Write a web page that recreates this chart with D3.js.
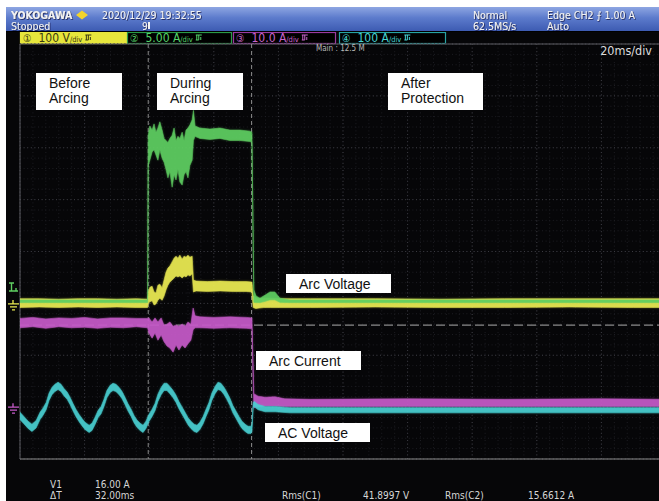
<!DOCTYPE html>
<html>
<head>
<meta charset="utf-8">
<script src="https://cdn.jsdelivr.net/npm/d3@7"></script>
<style>
  html, body { margin: 0; padding: 0; background: #fff; }
  svg { display: block; }
  .scope { font-family: 'Liberation Sans Narrow', 'DejaVu Sans Condensed', 'DejaVu Sans', sans-serif; font-stretch: condensed; }
  .note { font-family: 'Liberation Sans', Arial, sans-serif; font-size: 14px; fill: #111; }
</style>
</head>
<body>
<svg id="scope" width="659" height="501"></svg>
<script>
// ---- Acquisition settings ----
const timePerDiv = 20;            // ms/div
const timeSpan = [0, 200];        // ms across the screen
const sampleRate = "62.5MS/s";
const mainLength = "Main : 12.5 M";
const stampText = "2020/12/29 19:32:55";
const triggerLevel = 1.00;        // A on CH2
const cursorTimes = [39.7, 71.7]; // ms, vertical cursors
const cursorLevel = 16.00;        // A on CH3, horizontal cursor
const rmsC1 = 41.8997;            // V
const rmsC2 = 15.6612;            // A

// ---- Channel settings ----
const channelNames = ["1", "2", "3", "4"];
const perDiv = [100, 5, 10, 100];
const unitText = ["V", "A", "A", "A"];
const groundDiv = [-1.03, -0.96, -3.02, -3.03];

// ---- Traces: [time ms, low, high] ----
// CH1 arc voltage (V)
const ch1Volt = [
  [0,-5,12],[6,-4,12],[12,-5,11],[18,-4,12],[24,-5,12],[30,-4,11],[36,-5,12],[39.5,-5,11],
  [39.7,3,25],[40.2,6,34],[40.9,8,36],[41.5,0,25],[42.1,2,23],[42.7,9,38],[43.3,13,40],[44.0,9,33],
  [44.6,17,48],[45.2,29,63],[45.8,38,71],[46.4,44,75],[47.1,48,83],[47.7,52,90],[48.3,56,94],
  [48.9,54,90],[49.5,56,96],[50.2,52,88],[50.8,56,94],[51.4,54,92],[52.0,58,96],[52.6,56,92],
  [53.3,60,94],[53.7,25,48],[54.5,27,46],[58,26,45],[62,27,46],[66,26,45],[70,26,45],[71.8,25,44],
  [72.2,-5,18],[73.0,-7,14],[74.0,-6,12],[75.5,-5,13],[77.5,-5,13],[80,-5,12],[90,-5,12],
  [110,-4,12],[130,-5,11],[150,-5,12],[170,-4,12],[190,-5,12],[200,-5,12]
];
// CH2 arc current (A)
const ch2Amp = [
  [0,-0.12,0.12],[39.5,-0.12,0.12],
  [39.7,13.1,16.0],[40.2,13.6,16.9],[40.9,14.4,16.5],[41.5,14.6,17.1],[42.1,14.1,16.3],[42.7,13.6,16.7],
  [43.3,14.6,17.3],[44.0,13.8,16.5],[44.6,13.4,15.7],[45.2,12.7,15.5],[45.8,11.9,15.3],[46.4,12.5,15.7],
  [47.1,11.0,16.0],[47.7,12.2,16.7],[48.3,11.7,15.5],[48.9,12.7,15.9],[49.5,11.5,15.7],[50.2,11.2,16.3],
  [50.8,12.2,15.5],[51.4,12.5,16.5],[52.0,11.9,16.7],[52.6,13.1,17.0],[53.3,13.6,17.5],[53.7,15.5,18.4],
  [54.2,15.9,16.9],[55.7,15.7,16.7],[58.8,15.6,16.6],[61.9,15.7,16.7],[65.0,15.5,16.5],[68.1,15.5,16.5],
  [71.2,15.4,16.4],[71.8,15.3,16.3],
  [72.4,-0.1,1.1],[73.1,-0.12,0.5],[74.3,-0.12,0.3],[75.9,0.0,0.6],[77.4,0.15,0.9],[78.9,0.15,0.9],
  [80.5,-0.1,0.3],[83.6,-0.12,0.12],[200,-0.12,0.12]
];
// CH3 current (A)
const ch3Amp = [
  [0,15.5,17.3],[4,15.7,17.5],[8,15.4,17.2],[12,15.7,17.4],[16,15.5,17.3],[20,15.6,17.5],
  [24,15.4,17.2],[28,15.6,17.4],[32,15.5,17.4],[36,15.7,17.3],[39.5,15.5,17.3],
  [39.9,14.5,17.4],[40.9,13.5,16.6],[41.8,14.5,17.4],[42.7,13.1,16.6],[43.7,14.1,17.4],[44.6,12.8,16.0],
  [45.5,12.0,16.2],[46.4,11.6,16.6],[47.4,10.8,15.8],[48.3,12.2,16.0],[49.2,11.2,15.8],[50.2,12.2,16.2],
  [51.1,11.6,15.8],[52.0,12.4,16.6],[52.9,13.1,16.2],[53.6,15.1,19.3],[54.2,15.5,17.8],[55.7,15.5,17.6],
  [60,15.4,17.5],[65,15.5,17.6],[70,15.4,17.5],[71.8,15.3,17.4],
  [72.4,0.1,2.8],[73.7,0.3,2.3],[75.9,0.4,2.1],[78.9,0.4,2.2],[82,0.3,1.8],[90,0.3,1.7],
  [120,0.3,1.8],[150,0.3,1.7],[180,0.3,1.8],[200,0.3,1.7]
];
// CH4 AC line (A)
const ch4Wave = [
  [0,-21,-7],[1.2,-29,-15],[2.5,-38,-24],[3.7,-44,-30],[5.0,-37,-23],[6.2,-21,-7],[7.1,-13,1],[8.1,-2,12],
  [9.0,16,30],[9.9,27,41],[10.8,33,47],[11.8,37,51],[12.7,33,47],[13.6,25,39],[14.6,18,32],[15.5,8,22],
  [16.4,-4,10],[17.3,-15,-1],[18.3,-25,-11],[19.2,-33,-19],[20.1,-40,-26],[21.4,-46,-32],
  [22.3,-42,-28],[23.2,-31,-17],[24.2,-17,-3],[25.1,-10,4],[26.0,4,18],[26.9,21,35],[27.9,31,45],
  [28.8,35,49],[29.7,33,47],[30.7,27,41],[31.6,19,33],[32.5,8,22],[33.4,-4,10],[34.4,-15,-1],
  [35.3,-27,-13],[36.2,-36,-22],[37.2,-42,-28],[38.1,-46,-32],
  [39.0,-38,-24],[39.9,-25,-11],[40.9,-15,-1],[41.8,-4,10],[42.7,14,28],[43.7,27,41],[44.6,35,49],
  [45.5,35,49],[46.4,29,43],[47.4,21,35],[48.3,12,26],[49.2,0,14],[50.2,-11,3],[51.1,-21,-7],
  [52.0,-31,-17],[52.9,-38,-24],[53.9,-44,-30],[54.8,-46,-32],
  [55.7,-40,-26],[56.7,-29,-15],[57.6,-15,-1],[58.5,-2,12],[59.4,16,30],[60.4,29,43],[61.3,37,51],
  [62.2,35,49],[63.2,27,41],[64.1,17,31],[65.0,6,20],[65.9,-8,6],[66.9,-19,-5],[67.8,-29,-15],
  [68.7,-38,-24],[69.7,-44,-30],[70.6,-48,-34],[71.5,-48,-34],[71.8,-44,-30],
  [72.2,2,12],[72.5,4,14],[73.7,-2,8],[75.9,-6,4],[79,-6,4],[83.6,-8,2],[100,-8,2],
  [120,-8,2],[140,-8,2],[160,-8,2],[180,-8,2],[200,-8,2]
];

// ---- Annotation texts ----
const noteLines = [["Before", "Arcing"], ["During", "Arcing"], ["After", "Protection"],
                   ["Arc Voltage"], ["Arc Current"], ["AC Voltage"]];

// ==== drawing ====
const W = 659, H = 501;
const svg = d3.select("#scope");
const plot = { left: 20, top: 44, right: 666, bottom: 459 };
const x = d3.scaleLinear().domain(timeSpan).range([plot.left, plot.right]);
const yDiv = d3.scaleLinear().domain([-4, 4]).range([plot.bottom, plot.top]);

const colors = ["#ecec52", "#5fcf62", "#c65ac9", "#48d0d2"];
const channels = channelNames.map((n, i) => ({
  name: n, perDiv: perDiv[i], unit: unitText[i], ground: groundDiv[i], color: colors[i],
  data: [ch1Volt, ch2Amp, ch3Amp, ch4Wave][i]
}));
const yOf = (ch, v) => yDiv(v / ch.perDiv + ch.ground);

const defs = svg.append("defs");
const hdr = defs.append("linearGradient").attr("id", "hdr").attr("x1", 0).attr("y1", 0).attr("x2", 0).attr("y2", 1);
hdr.append("stop").attr("offset", "0%").attr("stop-color", "#8ea6e2");
hdr.append("stop").attr("offset", "45%").attr("stop-color", "#5c7bcc");
hdr.append("stop").attr("offset", "100%").attr("stop-color", "#3d5bb2");
defs.append("clipPath").attr("id", "plotClip").append("rect")
  .attr("x", plot.left).attr("y", plot.top).attr("width", W - plot.left).attr("height", plot.bottom - plot.top);
const glow = defs.append("filter").attr("id", "glow").attr("x", "-5%").attr("y", "-20%").attr("width", "110%").attr("height", "140%");
glow.append("feGaussianBlur").attr("stdDeviation", 1.3);
const soft = defs.append("filter").attr("id", "soft");
soft.append("feGaussianBlur").attr("stdDeviation", 0.4);
const shadow = defs.append("filter").attr("id", "shadow").attr("x", "-10%").attr("y", "-30%").attr("width", "120%").attr("height", "160%");
shadow.append("feDropShadow").attr("dx", 0.8).attr("dy", 0.8).attr("stdDeviation", 0.3).attr("flood-color", "#1b2452");

// page + screen
svg.append("rect").attr("width", W).attr("height", H).attr("fill", "#fff");
svg.append("rect").attr("x", 6).attr("y", 7).attr("width", W - 6).attr("height", H - 7).attr("fill", "#060608");
svg.append("rect").attr("x", 6).attr("y", 7).attr("width", W - 6).attr("height", 24).attr("fill", "url(#hdr)");

// header text with a dark drop shadow
function headText(t, xp, yp, size, weight) {
  svg.append("text").attr("class", "scope").attr("font-size", size).attr("font-weight", weight || "normal")
    .attr("x", xp).attr("y", yp).attr("fill", "#f2f2f2").attr("filter", "url(#shadow)").text(t);
}
headText("YOKOGAWA", 11, 18.8, 10.5, "bold");
svg.append("path").attr("d", "M82,10.5 L88,15 L82,19.5 L76,15 Z").attr("fill", "#f2d42a");
headText(stampText, 102, 18.8, 10.5);
headText("Stopped", 11, 29.6, 10.5);
headText("9", 142, 29.6, 10);
svg.append("rect").attr("x", 148).attr("y", 22).attr("width", 2).attr("height", 7).attr("fill", "#f2f2f2");
headText("Normal", 473, 18.8, 10.5);
headText(sampleRate, 473, 29.6, 10.5);
headText("Edge CH2 \u2A0D " + d3.format(".2f")(triggerLevel) + " A", 547, 18.8, 10.5);
headText("Auto", 547, 29.6, 10.5);

// channel bar
const barX = [[20, 127], [127, 232], [233, 336], [339, 446]];
const barCol = [["#e6e63c", "#e6e63c", "#3a3a10"], ["#000", "#2b9a48", "#55d46a"],
                ["#000", "#9a3aa0", "#c864cc"], ["#000", "#27a3a3", "#45d2d2"]];
const circled = ["\u2460", "\u2461", "\u2462", "\u2463"];
channels.forEach((ch, i) => {
  const [x0, x1] = barX[i], [fill, stroke, txt] = barCol[i];
  svg.append("rect").attr("x", x0 + 0.5).attr("y", 32.5).attr("width", x1 - x0 - 1).attr("height", 11)
    .attr("fill", fill).attr("stroke", stroke).attr("stroke-width", 1.2);
  const t = svg.append("text").attr("class", "scope").attr("x", x0 + 3).attr("y", 42)
    .attr("font-size", 12).attr("fill", txt);
  t.append("tspan").attr("font-size", 10.5).text(circled[i]);
  t.append("tspan").attr("dx", 7).text(d3.format(".3r")(ch.perDiv) + " " + ch.unit);
  t.append("tspan").attr("font-size", 7.5).text("/div");
  const bb = t.node().getBBox();
  const ix = bb.x + bb.width + 3;
  svg.append("path").attr("d", `M${ix},35 h6 M${ix + 1},35 v5 M${ix + 3},35 v5 M${ix},40 h3 M${ix + 5},37 v3`)
    .attr("stroke", txt).attr("stroke-width", 1).attr("fill", "none");
});
svg.append("line").attr("x1", 6).attr("x2", W).attr("y1", 31.5).attr("y2", 31.5).attr("stroke", "#000");

// grid
const grid = svg.append("g");
const minorT = d3.range(timeSpan[0], timeSpan[1] + 0.01, timePerDiv / 5);
const minorD = d3.range(-4, 4.001, 0.2);
grid.selectAll(".mv").data(minorT).join("line")
  .attr("x1", d => x(d)).attr("x2", d => x(d)).attr("y1", plot.top).attr("y2", plot.bottom)
  .attr("stroke", "#1d1d22").attr("stroke-dasharray", "1,2.6");
grid.selectAll(".mh").data(minorD).join("line")
  .attr("y1", d => yDiv(d)).attr("y2", d => yDiv(d)).attr("x1", plot.left).attr("x2", W)
  .attr("stroke", "#1d1d22").attr("stroke-dasharray", "1,2.6");
grid.selectAll(".Mv").data(d3.range(timeSpan[0], timeSpan[1] + 0.01, timePerDiv)).join("line")
  .attr("x1", d => x(d)).attr("x2", d => x(d)).attr("y1", plot.top).attr("y2", plot.bottom)
  .attr("stroke", "#3a3a40").attr("stroke-dasharray", "1,2.6");
grid.selectAll(".Mh").data(d3.range(-4, 4.01, 1)).join("line")
  .attr("y1", d => yDiv(d)).attr("y2", d => yDiv(d)).attr("x1", plot.left).attr("x2", W)
  .attr("stroke", "#3a3a40").attr("stroke-dasharray", "1,2.6");
// frame
svg.append("line").attr("x1", plot.left).attr("x2", W).attr("y1", plot.top).attr("y2", plot.top).attr("stroke", "#5a5a60");
svg.append("line").attr("x1", plot.left).attr("x2", W).attr("y1", plot.bottom).attr("y2", plot.bottom).attr("stroke", "#8a8a8a");
svg.append("line").attr("x1", plot.left).attr("x2", plot.left).attr("y1", plot.top).attr("y2", plot.bottom).attr("stroke", "#5a5a60");

svg.append("text").attr("class", "scope").attr("x", 316).attr("y", 51).attr("font-size", 8)
  .attr("fill", "#b8b8b8").text(mainLength);
svg.append("text").attr("class", "scope").attr("x", 652).attr("y", 55).attr("text-anchor", "end")
  .attr("font-size", 12.5).attr("fill", "#dcdcdc").text(timePerDiv + "ms/div");

// cursors
const cur = svg.append("g").attr("clip-path", "url(#plotClip)");
cur.selectAll("line.vc").data(cursorTimes).join("line")
  .attr("x1", d => x(d)).attr("x2", d => x(d)).attr("y1", plot.top).attr("y2", plot.bottom)
  .attr("stroke", "#8a8a8a").attr("stroke-width", 1).attr("stroke-dasharray", "4,3");
cur.append("line").attr("x1", plot.left).attr("x2", W)
  .attr("y1", yOf(channels[2], cursorLevel)).attr("y2", yOf(channels[2], cursorLevel))
  .attr("stroke", "#8a8a8a").attr("stroke-width", 1.2).attr("stroke-dasharray", "9,4");

// traces
const traces = svg.append("g").attr("clip-path", "url(#plotClip)");
[2, 3, 0, 1].forEach(i => {
  const ch = channels[i];
  const area = d3.area().x(d => x(d[0])).y0(d => yOf(ch, d[1])).y1(d => yOf(ch, d[2]));
  traces.append("path").attr("d", area(ch.data)).attr("fill", ch.color).attr("opacity", 0.3)
    .attr("stroke", ch.color).attr("stroke-width", 1).attr("filter", "url(#glow)");
  traces.append("path").attr("d", area(ch.data)).attr("fill", ch.color).attr("opacity", 0.9)
    .attr("stroke", ch.color).attr("stroke-width", 0.6).attr("filter", "url(#soft)");
});

// level markers in the left margin
const trigY = yOf(channels[1], triggerLevel);
svg.append("path").attr("d", `M9,${trigY - 8} h5 M11.5,${trigY - 8} v8 M9,${trigY} h9 M16,${trigY - 3} v3`)
  .attr("stroke", channels[1].color).attr("stroke-width", 1.4).attr("fill", "none");
[0, 2].forEach(i => {
  const gy = yOf(channels[i], 0);
  svg.append("path").attr("d", `M13,${gy - 5} v4 M8,${gy - 1} h11 M10,${gy + 2} h7 M12,${gy + 5} h3`)
    .attr("stroke", channels[i].color).attr("stroke-width", 1.3).attr("fill", "none");
});

// annotation boxes
const noteBoxes = [[36, 73, 86, 37], [157, 73, 86, 37], [388, 73, 95, 37],
                   [286, 274, 105, 19], [256, 351, 105, 19], [265, 423, 105, 19]];
noteLines.forEach((lines, i) => {
  const [bx, by, bw, bh] = noteBoxes[i];
  svg.append("rect").attr("x", bx).attr("y", by).attr("width", bw).attr("height", bh).attr("fill", "#fff");
  lines.forEach((l, j) => {
    svg.append("text").attr("class", "note").attr("x", bx + 13).attr("y", by + 15 + j * 15).text(l);
  });
});

// readouts
const ro = [["V1", 50, 487.5], [d3.format(".2f")(cursorLevel) + " A", 95, 487.5],
            ["\u0394T", 50, 498.5], [d3.format(".2f")(cursorTimes[1] - cursorTimes[0]) + "ms", 95, 498.5],
            ["Rms(C1)", 282, 498.5], [d3.format(".4f")(rmsC1) + " V", 363, 498.5],
            ["Rms(C2)", 445, 498.5], [d3.format(".4f")(rmsC2) + " A", 528, 498.5]];
ro.forEach(([t, xp, yp]) => {
  svg.append("text").attr("class", "scope").attr("x", xp).attr("y", yp).attr("font-size", 10)
    .attr("fill", "#d6d6d6").text(t);
});
</script>
</body>
</html>
